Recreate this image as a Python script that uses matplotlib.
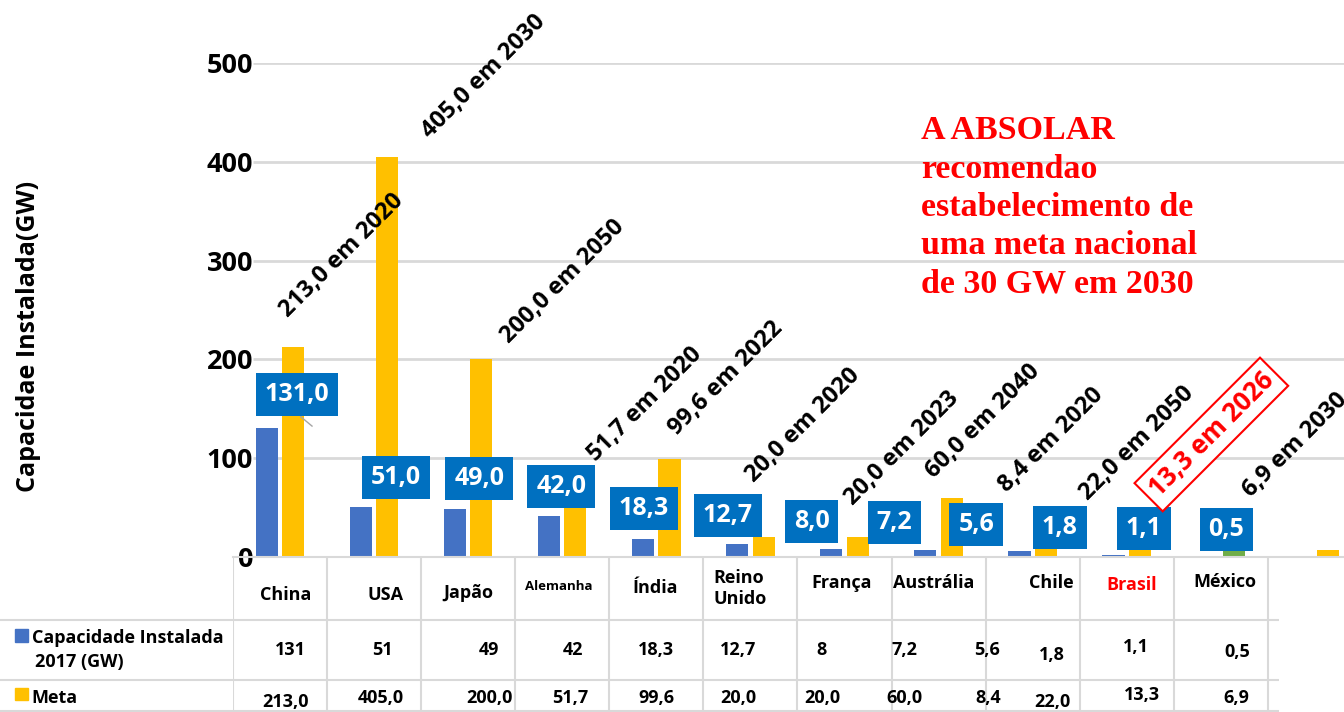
import numpy as np
import matplotlib.pyplot as plt
from matplotlib.patches import Rectangle

plt.rcParams['font.family'] = ['Open Sans', 'DejaVu Sans']

# dados
paises = ['China', 'USA', 'Japão', 'Alemanha', 'Índia', 'Reino\nUnido', 'França',
          'Austrália', 'Chile', 'Brasil', 'México']
capacidade = [131.0, 51.0, 49.0, 42.0, 18.3, 12.7, 8.0, 7.2, 5.6, 1.8, 1.1, 0.5]
meta = [213.0, 405.0, 200.0, 51.7, 99.6, 20.0, 20.0, 60.0, 8.4, 22.0, 13.3, 6.9]
ano_meta = [2020, 2030, 2050, 2020, 2022, 2020, 2023, 2040, 2020, 2050, 2026, 2030]
yticks = [0, 100, 200, 300, 400, 500]
destaque = 10  # Brasil

AZUL = '#4472C4'
AMARELO = '#FFC000'
VERDE = '#70AD47'
CINZA = '#D9D9D9'

# posicoes dos rotulos (deslocamento em x a partir do grupo, y em GW)
meta_lbl_dx = [0.66, 1.16, 1.01, 0.88, 0.74, 0.56, 0.61, 0.47, 0.20, 0.11, -0.10, -0.21]
meta_lbl_y = [305, 486, 279, 155, 181, 133, 110, 137, 118, 115, 124, 113]
cap_lbl_dx = [0.18, 0.23, 0.12, -0.01, -0.13, -0.24, -0.35, -0.47, -0.60, -0.71, -0.82, -0.94]
cap_lbl_y = [164, 80, 79, 71, 49, 41.5, 36, 35, 33, 30, 29, 28]

# posicoes do texto da tabela (x em colunas, y em px abaixo do eixo)
header_x = [0.06, 1.12, 2.0, 2.96, 3.99, 4.61, 5.97, 6.95, 8.2, 9.05, 10.04]
header_y = [38, 38, 36, 30, 31, 31.5, 26, 26, 26, 28, 25]
cap_tab_x = [0.11, 1.09, 2.22, 3.11, 4.0, 4.87, 5.76, 6.64, 7.52, 8.21, 9.10, 10.17]
cap_tab_y = [93, 93, 93, 93, 93, 93, 93, 93, 93, 98, 90, 95]
meta_tab_x = [0.06, 1.07, 2.23, 3.09, 4.0, 4.87, 5.76, 6.64, 7.53, 8.21, 9.16, 10.17]
meta_tab_y = [145, 141, 141, 141, 141, 141, 141, 141, 141, 145, 138, 141]


def virgula(v, fmt='{:.1f}'):
    return fmt.format(v).replace('.', ',')


W, H = 1344, 712
fig = plt.figure(figsize=(W / 100, H / 100), dpi=100)
ax = fig.add_axes([233 / W, 155 / H, 1111 / W, 494 / H])
x = np.arange(len(capacidade))

cores_meta = [VERDE if i == destaque else AMARELO for i in range(len(meta))]
ax.bar(x - 0.14, capacidade, 0.235, color=AZUL, zorder=2)
ax.bar(x + 0.14, meta, 0.235, color=cores_meta, zorder=2)

ax.set_xlim(-0.5, 11.31)
ax.set_ylim(0, 500)
ax.hlines(yticks[1:], -0.29, 11.31, color=CINZA, lw=2, zorder=0)
for s in ['top', 'right', 'left']:
    ax.spines[s].set_visible(False)
ax.spines['bottom'].set_color(CINZA)
ax.spines['bottom'].set_linewidth(1.5)
ax.set_xticks([])
ax.set_yticks(yticks)
ax.set_yticklabels([str(t) for t in yticks], fontsize=19.5, fontweight='bold')
ax.tick_params(axis='y', length=0, pad=-14.5)
ax.set_ylabel('Capacidae Instalada(GW)', fontsize=18, fontweight='bold')
ax.yaxis.set_label_coords(-0.173, 0.447)

# rotulos da capacidade instalada
for i, v in enumerate(capacidade):
    ax.text(i + cap_lbl_dx[i], cap_lbl_y[i], virgula(v), ha='center', va='center',
            color='white', fontsize=18, fontweight='bold', zorder=5,
            bbox=dict(boxstyle='square,pad=0.36', fc='#0070C0', ec='none'))
# linha guia do rotulo da China
ax.plot([cap_lbl_dx[0] + 0.04, cap_lbl_dx[0] + 0.16],
        [cap_lbl_y[0] - 22, cap_lbl_y[0] - 31.5], color='#A6A6A6', lw=1, zorder=4)

# rotulos das metas
for i, v in enumerate(meta):
    txt = virgula(v) + ' em ' + str(ano_meta[i])
    kw = dict(color='black', fontsize=17, fontweight='bold')
    if i == destaque:
        kw = dict(color='red', fontsize=18.5, fontweight='bold',
                  bbox=dict(boxstyle='square,pad=0.25', fc='white', ec='red', lw=1.5))
    ax.text(i + meta_lbl_dx[i], meta_lbl_y[i], txt, rotation=45, rotation_mode='anchor',
            ha='center', va='center', zorder=6, **kw)

ax.text(6.81, 447, 'A ABSOLAR\nrecomendao\nestabelecimento de\numa meta nacional\nde 30 GW em 2030',
        family='Liberation Serif', fontweight='bold', color='red', fontsize=24.5,
        ha='left', va='top', linespacing=1.3, zorder=6)

# tabela de dados
tab = fig.add_axes([233 / W, 0, 1111 / W, 155 / H])
tab.set_xlim(ax.get_xlim())
tab.set_ylim(155, 0)
tab.axis('off')
tab.vlines(np.arange(-0.5, 11, 1), 0, 155, color=CINZA, lw=1.5)
tab.hlines([63, 123, 154], -2.99, 10.62, color=CINZA, lw=1.5, clip_on=False)

for i, nome in enumerate(paises):
    cor = 'red' if nome == 'Brasil' else 'black'
    tam = 9.5 if nome == 'Alemanha' else 13
    ha = 'left' if '\n' in nome else 'center'
    tab.text(header_x[i], header_y[i], nome, ha=ha, va='center', fontsize=tam,
             fontweight='bold', color=cor, linespacing=1.25)

for i, v in enumerate(capacidade):
    tab.text(cap_tab_x[i], cap_tab_y[i], virgula(v, '{:g}'), ha='center', va='center',
             fontsize=13, fontweight='bold')
for i, v in enumerate(meta):
    tab.text(meta_tab_x[i], meta_tab_y[i], virgula(v), ha='center', va='center',
             fontsize=13, fontweight='bold')

tab.add_patch(Rectangle((-2.82, 72), 0.14, 13, color=AZUL, clip_on=False))
tab.add_patch(Rectangle((-2.82, 131), 0.14, 12, color=AMARELO, clip_on=False))
tab.text(-2.64, 81, 'Capacidade Instalada', ha='left', va='center', fontsize=13,
         fontweight='bold', clip_on=False)
tab.text(-2.60, 105, '2017 (GW)', ha='left', va='center', fontsize=13,
         fontweight='bold', clip_on=False)
tab.text(-2.64, 141, 'Meta', ha='left', va='center', fontsize=13,
         fontweight='bold', clip_on=False)

fig.savefig('out.png', dpi=100, facecolor='white')
